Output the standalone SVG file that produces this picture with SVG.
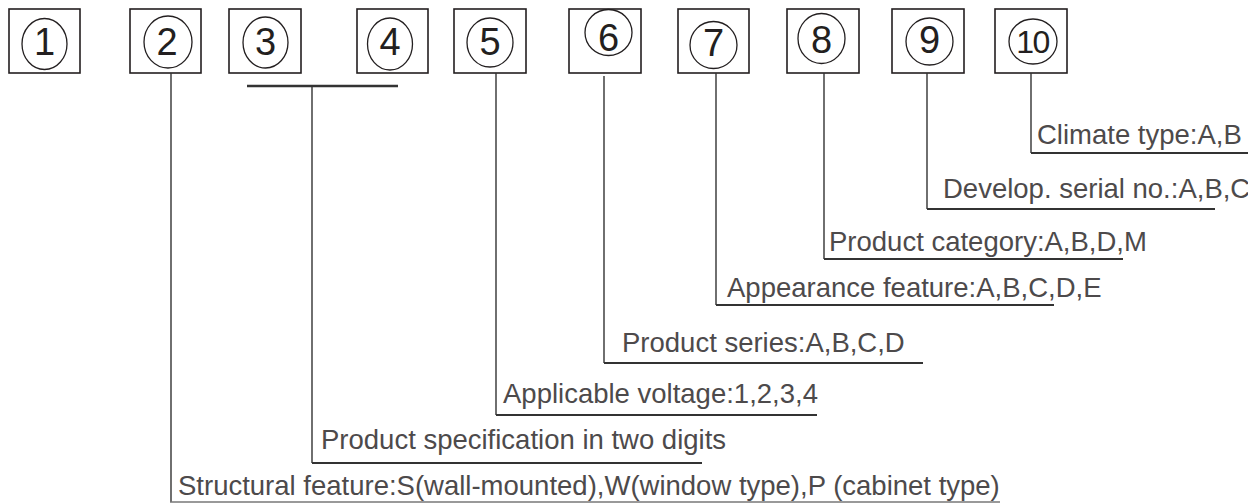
<svg xmlns="http://www.w3.org/2000/svg" width="1248" height="503" viewBox="0 0 1248 503">
<style>
.box{fill:#fff;stroke:#231f20;stroke-width:1.6}
.cir{fill:none;stroke:#231f20;stroke-width:1.3}
.num{font-family:"Liberation Sans",Arial,sans-serif;font-size:38px;fill:#231f20;text-anchor:middle}
.lbl{font-family:"Liberation Sans",Arial,sans-serif;font-size:27.5px;fill:#4d4a4b}
.v{stroke:#333;stroke-width:1.4;fill:none}
.u{stroke:#333;stroke-width:2;fill:none}
</style>
<rect width="1248" height="503" fill="#fff"/>
<g id="n1"><rect class="box" x="9" y="9" width="71" height="64"/><ellipse class="cir" cx="44.5" cy="44" rx="22.5" ry="25.5"/><text class="num" x="44.5" y="55">1</text></g>
<g id="n2"><rect class="box" x="130" y="9" width="71" height="64"/><ellipse class="cir" cx="168" cy="42" rx="24" ry="26"/><text class="num" x="167" y="55">2</text></g>
<g id="n3"><rect class="box" x="229" y="9" width="72" height="64"/><ellipse class="cir" cx="265.5" cy="42.5" rx="22.5" ry="25.5"/><text class="num" x="265.5" y="55">3</text></g>
<g id="n4"><rect class="box" x="357" y="9" width="71" height="64"/><ellipse class="cir" cx="390" cy="44" rx="22.5" ry="26"/><text class="num" x="390" y="55">4</text></g>
<g id="n5"><rect class="box" x="454" y="9" width="72" height="64"/><ellipse class="cir" cx="490" cy="42.5" rx="23" ry="24.5"/><text class="num" x="490" y="55">5</text></g>
<g id="n6"><rect class="box" x="569" y="9" width="72" height="64"/><ellipse class="cir" cx="608.5" cy="32.5" rx="23.5" ry="23"/><text class="num" x="608.5" y="51">6</text></g>
<g id="n7"><rect class="box" x="678" y="9" width="71" height="64"/><ellipse class="cir" cx="713.5" cy="45" rx="23.5" ry="23.5"/><text class="num" x="713.5" y="56">7</text></g>
<g id="n8"><rect class="box" x="787" y="9" width="72" height="64"/><ellipse class="cir" cx="821.5" cy="38.5" rx="23.5" ry="25"/><text class="num" x="821.5" y="53">8</text></g>
<g id="n9"><rect class="box" x="892" y="9" width="72" height="64"/><ellipse class="cir" cx="929.5" cy="41.5" rx="23.5" ry="23.5"/><text class="num" x="929.5" y="53">9</text></g>
<g id="n10"><rect class="box" x="995" y="9" width="72" height="64"/><ellipse class="cir" cx="1033" cy="41.5" rx="24" ry="22.5"/><text class="num" x="1032.5" y="53" style="font-size:32px;letter-spacing:-1.5px">10</text></g>
<g id="connectors">
<path class="v" d="M171 73V502"/><path class="u" style="stroke:#777;stroke-width:1.5" d="M170 502H1000"/>
<path class="u" style="stroke-width:2.6" d="M247 86H398"/><path class="v" d="M312 86V463"/><path class="u" d="M312 463H702"/>
<path class="v" d="M496 73V415"/><path class="u" d="M496 415H817"/>
<path class="v" d="M604 76V363"/><path class="u" d="M604 363H923"/>
<path class="v" d="M716 73V305"/><path class="u" d="M716 305H1054"/>
<path class="v" d="M824 73V259"/><path class="u" d="M824 259H1123"/>
<path class="v" d="M927 73V209"/><path class="u" d="M927 209H1215"/>
<path class="v" d="M1031 73V153"/><path class="u" d="M1031 153H1248"/>
</g>
<g id="labels">
<text class="lbl" x="1037" y="144">Climate type:A,B</text>
<text class="lbl" x="943" y="198">Develop. serial no.:A,B,C</text>
<text class="lbl" x="829" y="251">Product category:A,B,D,M</text>
<text class="lbl" x="727" y="297">Appearance feature:A,B,C,D,E</text>
<text class="lbl" x="622" y="352">Product series:A,B,C,D</text>
<text class="lbl" x="503" y="403">Applicable voltage:1,2,3,4</text>
<text class="lbl" x="321" y="449">Product specification in two digits</text>
<text class="lbl" x="178" y="495">Structural feature:S(wall-mounted),W(window type),P (cabinet type)</text>
</g>
</svg>
